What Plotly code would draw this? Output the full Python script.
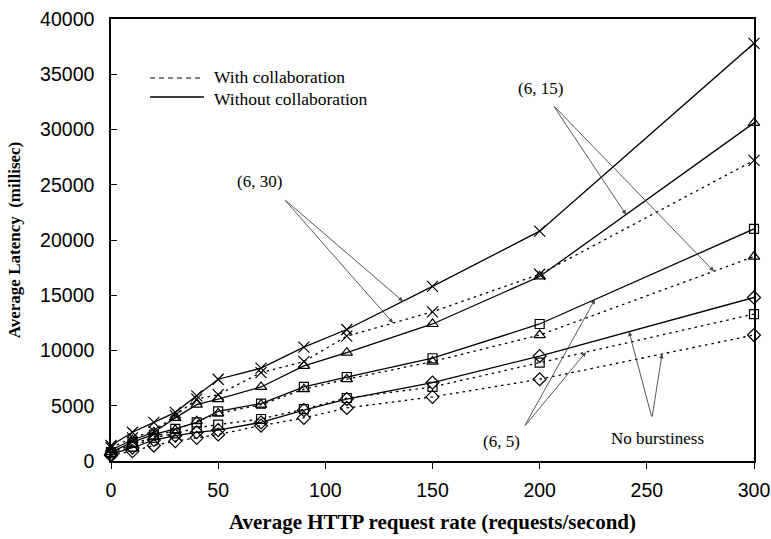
import numpy as np
import plotly.graph_objects as go

# ---------------- data ----------------
rate = [0, 10, 20, 30, 40, 50, 70, 90, 110, 150, 200, 300]

b630_without = [1400, 2600, 3500, 4400, 5900, 7400, 8400, 10300, 11900, 15800, 20800, 37800]
b630_with    = [1200, 2100, 2700, 4100, 5600, 6000, 8000, 9000, 11300, 13500, 16900, 27200]
b615_without = [1000, 1900, 2600, 3900, 5100, 5600, 6700, 8600, 9800, 12400, 16700, 30600]
b615_with    = [800, 1500, 2200, 2800, 3600, 4300, 5100, 6500, 7400, 9000, 11400, 18500]
b65_without  = [800, 1700, 2400, 2900, 3500, 4500, 5200, 6700, 7600, 9300, 12400, 21000]
b65_with     = [700, 1300, 2100, 2500, 3000, 3300, 3800, 4700, 5700, 6700, 8900, 13300]
nb_without   = [600, 1200, 1900, 2300, 2600, 2800, 3500, 4600, 5600, 7100, 9500, 14800]
nb_with      = [500, 900, 1400, 1800, 2100, 2400, 3200, 3900, 4800, 5800, 7400, 11400]

x_ticks = [0, 50, 100, 150, 200, 250, 300]
y_ticks = [0, 5000, 10000, 15000, 20000, 25000, 30000, 35000, 40000]

legend_labels = ["With collaboration", "Without collaboration"]
group_labels = ["(6, 30)", "(6, 15)", "(6, 5)", "No burstiness"]

# ---------------- figure ----------------
fig = go.Figure()

SOLID_W = 1.3
DOT = "2.5px,4px"

series = [
    (b630_without, "solid", "x-thin", 11, "(6, 30) without"),
    (b630_with, DOT, "x-thin", 11, "(6, 30) with"),
    (b615_without, "solid", "triangle-up-open", 10, "(6, 15) without"),
    (b615_with, DOT, "triangle-up-open", 10, "(6, 15) with"),
    (b65_without, "solid", "square-open", 9, "(6, 5) without"),
    (b65_with, DOT, "square-open", 9, "(6, 5) with"),
    (nb_without, "solid", "diamond-open", 10, "No burstiness without"),
    (nb_with, DOT, "diamond-open", 10, "No burstiness with"),
]

for vals, dash, sym, size, name in series:
    fig.add_trace(go.Scatter(
        x=rate, y=vals, mode="lines+markers", name=name, showlegend=False,
        line=dict(color="black", width=SOLID_W, dash=dash),
        marker=dict(symbol=sym, size=size, color="black",
                    line=dict(color="black", width=1.2)),
        cliponaxis=False,
    ))

serif = "Liberation Serif, Times New Roman, serif"
sans = "Liberation Sans, Arial, sans-serif"

annotations = []
# group labels (layout positions in data coordinates)
label_pos = [(69.5, 25250), (200.2, 33670), (182.0, 1720), (254.8, 2080)]
for txt, (lx, ly) in zip(group_labels, label_pos):
    annotations.append(dict(x=lx, y=ly, xref="x", yref="y", text=txt,
                            showarrow=False, font=dict(family=serif, size=17, color="black")))

# arrows: origin -> point on the corresponding series line
arrow_specs = [
    ((80.7, 23710), [(136.2, b630_without), (131.6, b630_with)]),
    ((206.2, 32220), [(240.3, b615_without), (281.3, b615_with)]),
    ((192.7, 3077), [(225.8, b65_without), (221.6, b65_with)]),
    ((252.4, 3890), [(241.7, nb_without), (257.1, nb_with)]),
]
for (ox, oy), tips in arrow_specs:
    for tx, vals in tips:
        ty = float(np.interp(tx, rate, vals))
        annotations.append(dict(x=tx, y=ty, xref="x", yref="y", ax=ox, ay=oy,
                                axref="x", ayref="y", text="", showarrow=True,
                                arrowhead=2, arrowsize=1.0, arrowwidth=0.9,
                                arrowcolor="#444444"))

# legend text
annotations.append(dict(x=0.157, y=0.8680, xref="paper", yref="paper", text=legend_labels[0],
                        showarrow=False, xanchor="left", yanchor="middle",
                        font=dict(family=serif, size=17.5, color="black")))
annotations.append(dict(x=0.157, y=0.8180, xref="paper", yref="paper", text=legend_labels[1],
                        showarrow=False, xanchor="left", yanchor="middle",
                        font=dict(family=serif, size=17.5, color="black")))

shapes = [
    dict(type="line", xref="paper", yref="paper", x0=0.0607, x1=0.1415, y0=0.8665, y1=0.8665,
         line=dict(color="black", width=1.2, dash="5px,4px")),
    dict(type="line", xref="paper", yref="paper", x0=0.0607, x1=0.1446, y0=0.8235, y1=0.8235,
         line=dict(color="black", width=1.3)),
]

fig.update_layout(
    width=771, height=539,
    margin=dict(l=111, r=17, t=19, b=78, autoexpand=False),
    paper_bgcolor="white", plot_bgcolor="white",
    annotations=annotations, shapes=shapes,
    showlegend=False,
)

fig.update_xaxes(
    range=[0, 300], tickvals=x_ticks, ticktext=[str(v) for v in x_ticks],
    showgrid=False, zeroline=False, automargin=False,
    showline=True, linecolor="black", linewidth=1.5, mirror=True,
    ticks="outside", ticklen=6, tickcolor="black", tickwidth=1.2,
    ticklabelstandoff=5,
    tickfont=dict(family=sans, size=19.5, color="black"),
    title=dict(text="<b>Average HTTP request rate (requests/second)</b>",
               font=dict(family=serif, size=21, color="black"), standoff=14),
)
fig.update_yaxes(
    range=[0, 40000], tickvals=y_ticks, ticktext=[str(v) for v in y_ticks],
    showgrid=False, zeroline=False, automargin=False,
    showline=True, linecolor="black", linewidth=1.5, mirror=True,
    ticks="inside", ticklen=6, tickcolor="black", tickwidth=1.2,
    ticklabelstandoff=11,
    tickfont=dict(family=sans, size=19.5, color="black"),
    title=dict(text="<b>Average Latency  (millisec)</b>",
               font=dict(family=serif, size=17, color="black"), standoff=15),
)

fig.write_html("out.html")
